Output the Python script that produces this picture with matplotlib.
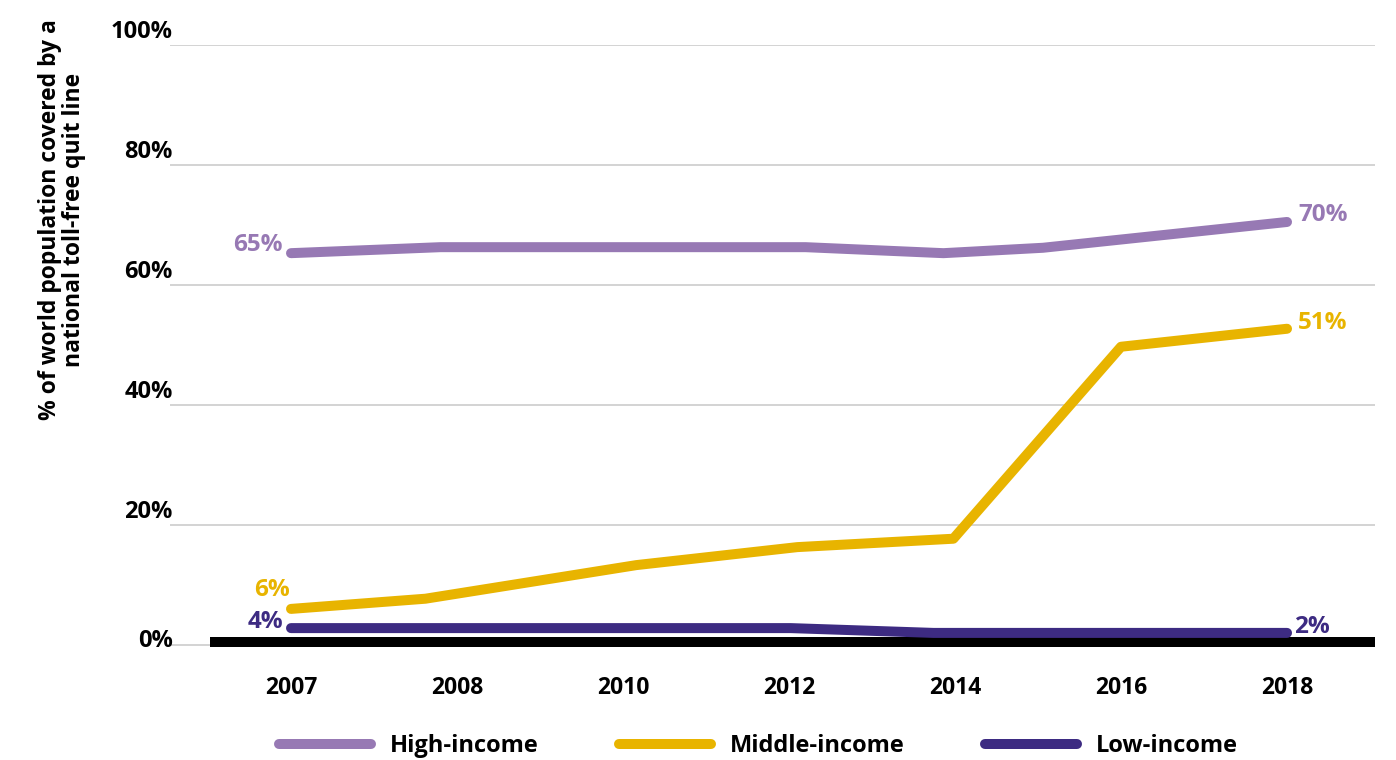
import matplotlib
matplotlib.use("Agg")
import matplotlib.pyplot as plt
from matplotlib.transforms import ScaledTranslation

plt.rcParams['font.family'] = ['Open Sans', 'DejaVu Sans']
NARROW = ['Liberation Sans Narrow', 'Open Sans', 'DejaVu Sans']

# category ticks (evenly spaced)
years = ["2007", "2008", "2010", "2012", "2014", "2016", "2018"]

# series: x in tick-index units, values in %
high_x = [0, 0.9, 3.1, 3.93, 4.53, 6]
high_y = [65.3, 66.3, 66.3, 65.3, 66.2, 70.5]
mid_x = [0, 0.81, 2.08, 3.05, 3.99, 5.0, 6]
mid_y = [6.0, 7.7, 13.3, 16.3, 17.7, 49.7, 52.7]
low_x = [0, 3.01, 3.87, 6]
low_y = [2.8, 2.8, 2.0, 2.0]

high_lbl = ("65%", "70%")
mid_lbl = ("6%", "51%")
low_lbl = ("4%", "2%")

C_HIGH = "#9779b4"
C_MID = "#e8b400"
C_LOW = "#3d2b82"

fig = plt.figure(figsize=(13.96, 7.6), dpi=100)
ax = fig.add_axes([170/1396, 1 - 650/760, 1205/1396, 605/760])

lw = 7.2
ax.plot(high_x, high_y, color=C_HIGH, lw=lw, solid_capstyle="round", label="High-income", zorder=4)
ax.plot(mid_x, mid_y, color=C_MID, lw=lw, solid_capstyle="round", label="Middle-income", zorder=4)
ax.plot(low_x, low_y, color=C_LOW, lw=lw, solid_capstyle="round", label="Low-income", zorder=4)

# thick black baseline
ax.axhline(0.5, xmin=40/1205, xmax=1, color="black", lw=7.2, solid_capstyle="butt", zorder=3)

ax.set_xlim(-0.729, 6.53)
ax.set_ylim(-0.85, 100)

# end labels
def lab(x, y, txt, color, dx, dy, ha):
    ax.annotate(txt, (x, y), xytext=(dx*0.72, dy*0.72), textcoords="offset points",
                ha=ha, va="center", color=color, fontsize=17.5, fontweight="bold", zorder=5)

lab(high_x[0], high_y[0], high_lbl[0], C_HIGH, -8, 8, "right")
lab(high_x[-1], high_y[-1], high_lbl[1], C_HIGH, 11, 7, "left")
lab(mid_x[0], mid_y[0], mid_lbl[0], C_MID, -1, 19, "right")
lab(mid_x[-1], mid_y[-1], mid_lbl[1], C_MID, 11, 6, "left")
lab(low_x[0], low_y[0], low_lbl[0], C_LOW, -8, 6, "right")
lab(low_x[-1], low_y[-1], low_lbl[1], C_LOW, 7, 6, "left")

# axes styling
for s in ax.spines.values():
    s.set_visible(False)
ax.set_yticks([0, 20, 40, 60, 80, 100])
ax.set_yticklabels(["0%", "20%", "40%", "60%", "80%", "100%"], fontsize=17, fontweight="bold")
ax.grid(axis="y", color="#c8c8c8", lw=1.1)
ax.set_axisbelow(True)
ax.tick_params(axis="y", length=0, pad=-2)
for t in ax.get_yticklabels():
    off = 7 if t.get_text() == "0%" else 16
    t.set_transform(t.get_transform() + ScaledTranslation(0, off/100, fig.dpi_scale_trans))

ax.set_xticks(range(len(years)))
ax.set_xticklabels(years, fontsize=16.5, fontweight="bold", family=NARROW)
ax.tick_params(axis="x", length=0, pad=19)

fig.text(62/1396, 1 - 220/760, "% of world population covered by a\nnational toll-free quit line",
         rotation=90, ha="center", va="center", fontsize=16.5, fontweight="bold", linespacing=1.05)

leg = fig.legend(loc="center", bbox_to_anchor=(758/1396, 1 - 746/760), ncol=3, frameon=False,
                 handlelength=3.9, handletextpad=0.8, columnspacing=3.4,
                 prop={"family": NARROW, "weight": "bold", "size": 17})
for h in leg.get_lines():
    h.set_linewidth(7.2)
    h.set_solid_capstyle("round")

fig.savefig("out.png", dpi=100)
